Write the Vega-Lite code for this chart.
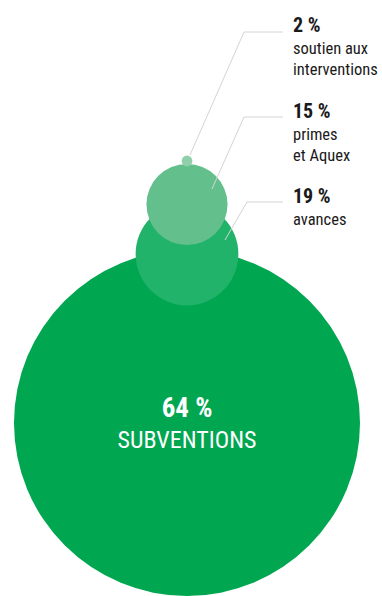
{
  "$schema": "https://vega.github.io/schema/vega-lite/v6.json",
  "width": 382,
  "height": 596,
  "padding": 0,
  "autosize": {"type": "none"},
  "background": "white",
  "view": {"stroke": null},
  "config": {"font": "Roboto Condensed, Liberation Sans Narrow, Roboto, sans-serif"},
  "datasets": {
    "circles": [
      {"part": "SUBVENTIONS", "pct": 64, "label": "64 %", "cx": 187, "cy": 423},
      {"part": "avances", "pct": 19, "label": "19 %", "cx": 187, "cy": 254},
      {"part": "primes et Aquex", "pct": 15, "label": "15 %", "cx": 187, "cy": 204.5},
      {"part": "soutien aux interventions", "pct": 2, "label": "2 %", "cx": 187, "cy": 161}
    ],
    "labels": [
      {"label": "2 %", "desc": "soutien aux\ninterventions", "lx": 293, "ly": 32},
      {"label": "15 %", "desc": "primes\net Aquex", "lx": 293, "ly": 117.5},
      {"label": "19 %", "desc": "avances", "lx": 293, "ly": 203}
    ],
    "leaders": [
      {"k": "a", "o": 1, "x": 190, "y": 155},
      {"k": "a", "o": 2, "x": 244, "y": 32},
      {"k": "a", "o": 3, "x": 283, "y": 32},
      {"k": "b", "o": 1, "x": 212, "y": 189},
      {"k": "b", "o": 2, "x": 244, "y": 117},
      {"k": "b", "o": 3, "x": 283, "y": 117},
      {"k": "c", "o": 1, "x": 225, "y": 240},
      {"k": "c", "o": 2, "x": 247, "y": 202},
      {"k": "c", "o": 3, "x": 283, "y": 202}
    ]
  },
  "layer": [
    {
      "data": {"name": "circles"},
      "mark": {"type": "point", "shape": "circle", "filled": true, "opacity": 1, "strokeWidth": 0},
      "encoding": {
        "x": {"field": "cx", "type": "quantitative", "scale": {"domain": [0, 382], "nice": false, "zero": false}, "axis": null},
        "y": {"field": "cy", "type": "quantitative", "scale": {"domain": [0, 596], "nice": false, "zero": false, "reverse": true}, "axis": null},
        "size": {"field": "pct", "type": "quantitative", "scale": {"type": "pow", "exponent": 2, "domain": [0, 64], "range": [0, 119716]}, "legend": null},
        "color": {"field": "part", "type": "nominal", "scale": {"domain": ["SUBVENTIONS", "avances", "primes et Aquex", "soutien aux interventions"], "range": ["#00a650", "#22b36b", "#63c08d", "#8fd0ab"]}, "legend": null},
        "order": {"field": "pct", "sort": "descending"}
      }
    },
    {
      "data": {"name": "leaders"},
      "mark": {"type": "line", "color": "#d4d4d4", "strokeWidth": 1},
      "encoding": {
        "x": {"field": "x", "type": "quantitative"},
        "y": {"field": "y", "type": "quantitative"},
        "detail": {"field": "k"},
        "order": {"field": "o"}
      }
    },
    {
      "data": {"name": "labels"},
      "mark": {"type": "text", "align": "left", "baseline": "alphabetic", "fontSize": 20, "fontWeight": "bold", "color": "#1a1a1a"},
      "encoding": {
        "x": {"field": "lx", "type": "quantitative"},
        "y": {"field": "ly", "type": "quantitative"},
        "text": {"field": "label"}
      }
    },
    {
      "data": {"name": "labels"},
      "mark": {"type": "text", "align": "left", "baseline": "alphabetic", "fontSize": 16.5, "lineBreak": "\n", "lineHeight": 21, "dy": 22, "color": "#1a1a1a"},
      "encoding": {
        "x": {"field": "lx", "type": "quantitative"},
        "y": {"field": "ly", "type": "quantitative"},
        "text": {"field": "desc"}
      }
    },
    {
      "data": {"name": "circles"},
      "transform": [{"filter": "datum.pct == 64"}],
      "mark": {"type": "text", "align": "center", "baseline": "alphabetic", "fontSize": 27, "fontWeight": "bold", "color": "white", "dy": -6},
      "encoding": {
        "x": {"field": "cx", "type": "quantitative"},
        "y": {"field": "cy", "type": "quantitative"},
        "text": {"field": "label"}
      }
    },
    {
      "data": {"name": "circles"},
      "transform": [{"filter": "datum.pct == 64"}],
      "mark": {"type": "text", "align": "center", "baseline": "alphabetic", "fontSize": 24, "color": "white", "dy": 25},
      "encoding": {
        "x": {"field": "cx", "type": "quantitative"},
        "y": {"field": "cy", "type": "quantitative"},
        "text": {"field": "part"}
      }
    }
  ]
}
